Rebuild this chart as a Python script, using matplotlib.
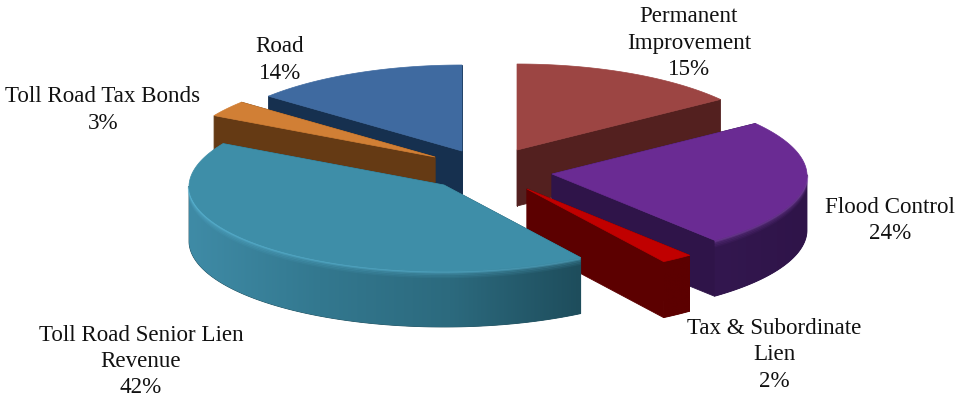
import numpy as np
import matplotlib
matplotlib.use("Agg")
import matplotlib.pyplot as plt
from matplotlib.colors import LinearSegmentedColormap
from matplotlib.patches import Polygon

# data, clockwise from 12 o'clock
labels = ["Permanent\nImprovement", "Flood Control", "Tax & Subordinate\nLien",
          "Toll Road Senior Lien\nRevenue", "Toll Road Tax Bonds", "Road"]
values = [15, 24, 2, 42, 3, 14]

top_colors = ["#9c4543", "#6a2b93", "#c00000", "#3e8ea8", "#d17f35", "#3f6aa0"]
side_colors = [["#53201f", "#53201f"], ["#33174f", "#2f1449"], ["#5c0000", "#5c0000"],
               ["#3f8ba6", "#33788f", "#2c6a7e", "#1e4d5c"], ["#653a14", "#653a14"],
               ["#16304f", "#16304f"]]
rim_colors = [None, "#8a4bb5", None, "#62c0e0", None, None]

# layout in pixels
apex = [(517, 150), (552, 174), (527, 189), (444, 185), (435, 157), (462, 151)]
label_pos = [(689, 43), (890, 220.5), (774, 355), (141, 361.5), (103, 110), (280, 60)]
draw_order = [5, 0, 4, 1, 2, 3]
rx, ry, depth = 255, 86, 56

fig = plt.figure(figsize=(9.56, 3.98), dpi=100)
ax = fig.add_axes([0, 0, 1, 1])
ax.set_xlim(0, 956)
ax.set_ylim(398, 0)
ax.set_autoscale_on(False)
ax.axis("off")

# slice angles
edges = np.cumsum([0] + values) / sum(values) * 2 * np.pi

for i in draw_order:
    cx, cy = apex[i]
    z = 1 + draw_order.index(i) * 0.01
    t = np.linspace(edges[i], edges[i + 1], 160)
    # back of the pie is a little narrower
    x = cx + (rx - 6 * np.maximum(np.cos(t), 0)) * np.sin(t)
    y = cy - ry * np.cos(t)

    # radial faces
    for ex, ey in [(x[0], y[0]), (x[-1], y[-1])]:
        face = [(cx, cy), (ex, ey), (ex, ey + depth), (cx, cy + depth)]
        ax.add_patch(Polygon(face, closed=True, fc=side_colors[i][-1], ec=side_colors[i][-1],
                             lw=0.6, zorder=z))

    # outer wall, shaded left to right, only the front half shows
    front = np.cos(t) <= 0
    if front.any():
        fx, fy = x[front], y[front]
        wall = Polygon(np.column_stack([np.r_[fx, fx[::-1]], np.r_[fy, fy[::-1] + depth]]),
                       closed=True, fc=side_colors[i][-1], ec=side_colors[i][-1], lw=0.6, zorder=z)
        ax.add_patch(wall)
        cmap = LinearSegmentedColormap.from_list(f"wall{i}", side_colors[i])
        ax.imshow(np.linspace(0, 1, 256).reshape(1, -1), cmap=cmap, aspect="auto",
                  extent=[fx.min(), fx.max(), fy.max() + depth, fy.min()], clip_path=wall,
                  interpolation="bilinear", zorder=z)

    # rounded rim on the two big front slices
    if rim_colors[i]:
        for off, a in [(6, 0.07), (4.5, 0.1), (3, 0.16), (1.5, 0.28), (0.5, 0.4)]:
            ax.plot(fx, fy + off, color=rim_colors[i], lw=1.8, alpha=a,
                    solid_capstyle="butt", zorder=z)

    top = np.column_stack([np.r_[cx, x], np.r_[cy, y]])
    ax.add_patch(Polygon(top, closed=True, fc=top_colors[i], ec=top_colors[i], lw=0.5, zorder=z))

for name, v, (lx, ly) in zip(labels, values, label_pos):
    ax.text(lx, ly, f"{name}\n{v}%", ha="center", va="center", ma="center",
            family="Liberation Serif", fontsize=16.6, color="#111111", linespacing=1.33,
            zorder=5)

fig.savefig("out.png", dpi=100)
